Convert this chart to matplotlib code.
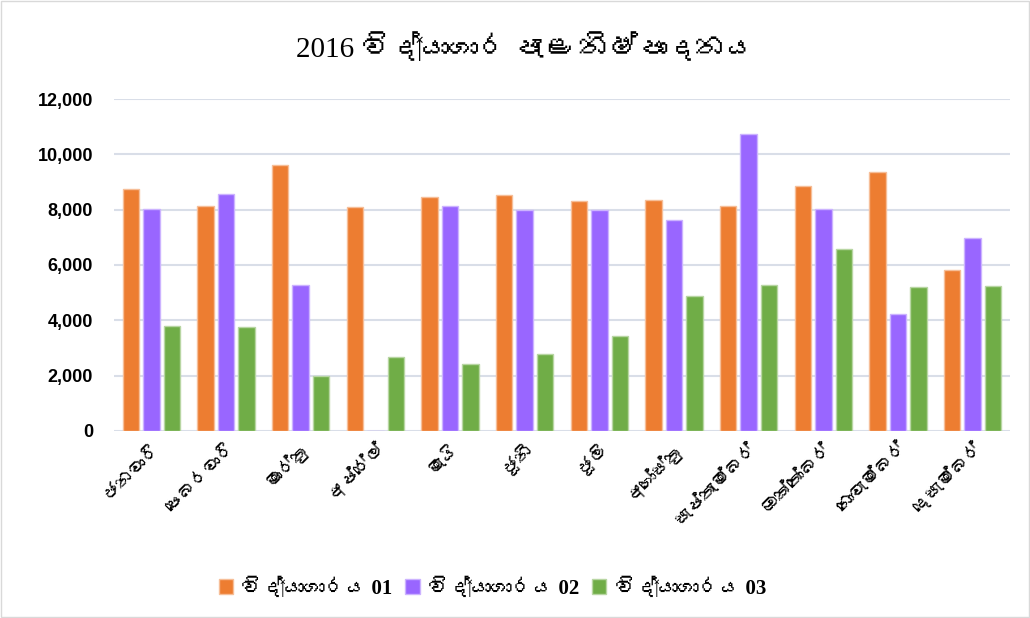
import numpy as np
import matplotlib
matplotlib.use("Agg")
from matplotlib import pyplot as plt
from matplotlib import font_manager
from matplotlib.patches import Rectangle

# data
months = ["ජනවාරි", "පෙබරවාරි", "මාර්තු", "අප්‍රේල්", "මැයි", "ජූනි",
          "ජූලි", "අගෝස්තු", "සැප්තැම්බර්", "ඔක්තෝබර්", "නොවැම්බර්", "දෙසැම්බර්"]
lab01 = [8730, 8150, 9600, 8100, 8470, 8520, 8320, 8340, 8130, 8860, 9360, 5830]
lab02 = [8010, 8560, 5290, 0, 8150, 7990, 7980, 7630, 10730, 8020, 4220, 6990]
lab03 = [3800, 3750, 2000, 2690, 2420, 2800, 3430, 4870, 5280, 6570, 5200, 5230]
series_names = ["විද්‍යාගාරය 01", "විද්‍යාගාරය 02", "විද්‍යාගාරය 03"]
title = "2016 විද්‍යාගාර පැළ නිෂ්පාදනය"

colors = ["#ED7D31", "#9966FF", "#70AD47"]
edges = ["#F6BE98", "#CCB3FF", "#B8D6A3"]


# look for a font that has sinhala glyphs
def find_sinhala():
    from fontTools.ttLib import TTFont
    for f in font_manager.fontManager.ttflist:
        try:
            cmap = TTFont(f.fname, fontNumber=0, lazy=True).getBestCmap()
        except Exception:
            continue
        if cmap and 0x0D9A in cmap:
            return f.name
    return None


sin_font = find_sinhala()
# DejaVu first so the zero width joiner stays invisible
sans = ["DejaVu Sans", sin_font] if sin_font else ["DejaVu Sans"]
serif = ["Liberation Serif"] + sans[1:] + ["DejaVu Sans"]

fig = plt.figure(figsize=(10.3, 6.18), dpi=100)
ax = fig.add_axes([0.1107, 0.3026, 0.8699, 0.5372])

x = np.arange(len(months))
w = 0.22
step = 0.275
for i, vals in enumerate([lab01, lab02, lab03]):
    ax.bar(x + (i - 1) * step, vals, width=w, color=colors[i],
           edgecolor=edges[i], linewidth=1, label=series_names[i], zorder=3)

ax.set_xlim(-0.5, 11.5)
ax.set_ylim(0, 12000)
ax.set_yticks(np.arange(0, 12001, 2000))
ax.set_yticklabels([f"{v:,}" for v in range(0, 12001, 2000)],
                   family="Liberation Sans", fontweight="bold", fontsize=13)
ax.yaxis.grid(True, color="#D9DEE8", linewidth=1.5, zorder=0)
ax.tick_params(axis="y", length=0, pad=15)
ax.tick_params(axis="x", length=0, pad=6)
for s in ax.spines.values():
    s.set_visible(False)

ax.set_xticks(x)
ax.set_xticklabels(months, rotation=45, ha="right", rotation_mode="anchor",
                   family=sans, fontsize=13)

fig.text(0.51, 0.922, title, ha="center", va="center",
         family=serif, fontsize=21)

leg = fig.legend(loc="center", bbox_to_anchor=(0.478, 0.048), ncol=3,
                 frameon=False, handlelength=0.7, handleheight=0.7,
                 handletextpad=0.4, columnspacing=0.6,
                 prop={"family": serif, "size": 15, "weight": "bold"})

fig.patches.append(Rectangle((0.001, 0.001), 0.998, 0.997, transform=fig.transFigure,
                             fill=False, edgecolor="#D9D9D9", linewidth=1))

fig.savefig("out.png", dpi=100)
